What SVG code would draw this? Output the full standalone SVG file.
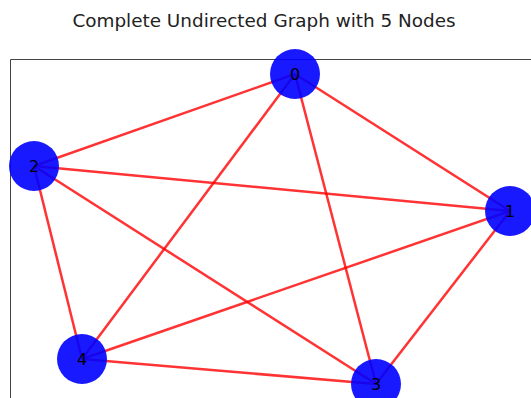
<svg xmlns="http://www.w3.org/2000/svg" width="531" height="398" viewBox="0 0 531 398">
<style>
.edge{stroke:#ff0000;stroke-opacity:0.8;stroke-width:2.5;fill:none}
.node circle{fill:#0000ff;fill-opacity:0.9}
.node text{font-family:"DejaVu Sans",sans-serif;font-size:16px;fill:#000;text-anchor:middle;dominant-baseline:central}
.spine{stroke:#444;stroke-width:1;fill:none}
</style>
<rect width="531" height="398" fill="#fff"/>
<text x="264" y="27" font-family="DejaVu Sans, sans-serif" font-size="18.4" text-anchor="middle" fill="#222">Complete Undirected Graph with 5 Nodes</text>
<path class="spine" d="M10.5 398 V59.5 H531"/>
<g id="edges">
<line class="edge" x1="295" y1="74" x2="510" y2="211"/>
<line class="edge" x1="295" y1="74" x2="34" y2="166"/>
<line class="edge" x1="295" y1="74" x2="376" y2="384"/>
<line class="edge" x1="295" y1="74" x2="82" y2="359"/>
<line class="edge" x1="510" y1="211" x2="34" y2="166"/>
<line class="edge" x1="510" y1="211" x2="376" y2="384"/>
<line class="edge" x1="510" y1="211" x2="82" y2="359"/>
<line class="edge" x1="34" y1="166" x2="376" y2="384"/>
<line class="edge" x1="34" y1="166" x2="82" y2="359"/>
<line class="edge" x1="376" y1="384" x2="82" y2="359"/>
</g>
<g id="node0" class="node"><circle cx="295" cy="74" r="25"/><text x="295" y="74">0</text></g>
<g id="node1" class="node"><circle cx="510" cy="211" r="25"/><text x="510" y="211">1</text></g>
<g id="node2" class="node"><circle cx="34" cy="166" r="25"/><text x="34" y="166">2</text></g>
<g id="node3" class="node"><circle cx="376" cy="384" r="25"/><text x="376" y="384">3</text></g>
<g id="node4" class="node"><circle cx="82" cy="359" r="25"/><text x="82" y="359">4</text></g>
</svg>
